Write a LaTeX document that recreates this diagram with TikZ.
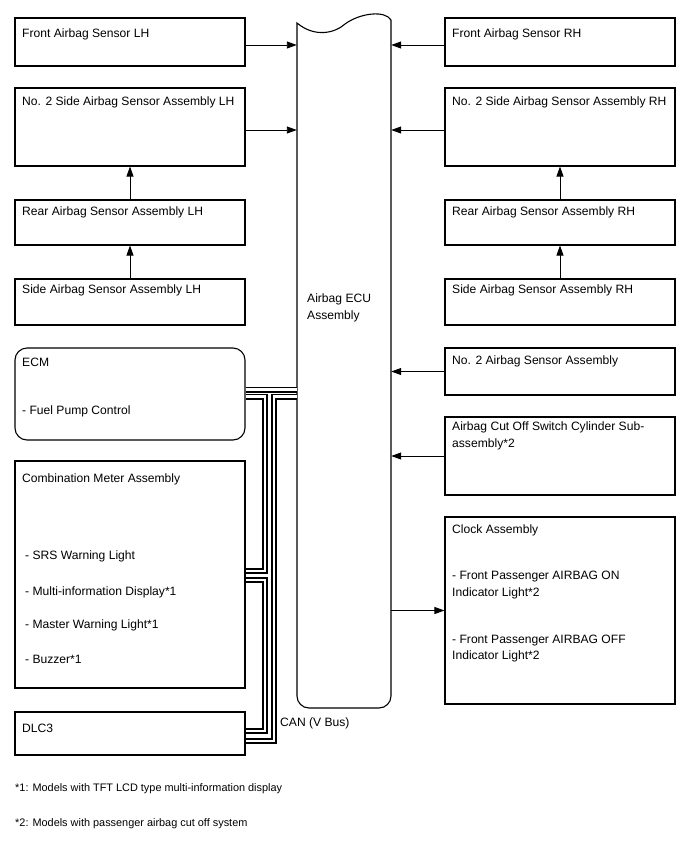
\documentclass[tikz,border=0pt]{standalone}
\usepackage{fontspec}
\setmainfont{Liberation Sans}
\usetikzlibrary{arrows.meta,calc}
\newcommand{\fsmain}{\fontsize{12.1}{15}\selectfont}
\newcommand{\fsnote}{\fontsize{10.9}{13}\selectfont}
\begin{document}
\begin{tikzpicture}[x=1pt,y=-1pt,
  box/.style={draw, line width=1.1pt, rectangle, inner sep=0pt},
  lbl/.style={anchor=west, inner sep=0pt, text height=9pt, text depth=0pt, font=\fsmain},
  note/.style={anchor=west, inner sep=0pt, text height=8pt, text depth=0pt, font=\fsnote},
  arr/.style={line width=0.9pt, -{Triangle[length=10pt,width=7pt]}},
  can/.style={double, double distance=2.4pt, line width=1.8pt, line join=miter}]
\useasboundingbox (0,0) rectangle (688,852);
% ECU
\node[minimum width=94pt, minimum height=690pt, inner sep=0pt] (ecu) at (344,363) {};
\draw[line width=1.1pt] (391,20) [rounded corners=12pt] -- (391,708) -- (297,708) [sharp corners] -- (297,23)
  .. controls (315,38) and (335,33) .. (345,24) .. controls (360,13) and (385,10) .. (391,20);
\node[lbl] (ecut1) at (307,298) {Airbag ECU};
\node[lbl] (ecut2) at (307,315) {Assembly};
% left boxes
\node[box, minimum width=230pt, minimum height=48pt] (flh) at (130,42) {};
\node[box, minimum width=230pt, minimum height=78pt] (slh2) at (130,127) {};
\node[box, minimum width=230pt, minimum height=45pt] (rlh) at (130,222.5) {};
\node[box, minimum width=230pt, minimum height=46pt] (slh) at (130,302) {};
\node[box, rounded corners=12pt, minimum width=230pt, minimum height=92pt] (ecm) at (130,394) {};
\node[box, minimum width=230pt, minimum height=227pt] (cm) at (130,574.5) {};
\node[box, minimum width=230pt, minimum height=43pt] (dlc) at (130,733.5) {};
% right boxes
\node[box, minimum width=230pt, minimum height=48pt] (frh) at (560,42) {};
\node[box, minimum width=230pt, minimum height=78pt] (srh2) at (560,127) {};
\node[box, minimum width=230pt, minimum height=45pt] (rrh) at (560,222.5) {};
\node[box, minimum width=230pt, minimum height=46pt] (srh) at (560,302) {};
\node[box, minimum width=230pt, minimum height=47pt] (no2) at (560,371.5) {};
\node[box, minimum width=230pt, minimum height=78pt] (cut) at (560,456) {};
\node[box, minimum width=230pt, minimum height=187pt] (clk) at (560,610.5) {};
% texts left
\node[lbl] (tflh) at (22,33) {Front Airbag Sensor LH};
\node[lbl] (tslh2) at (22,101) {No. 2 Side Airbag Sensor Assembly LH};
\node[lbl] (trlh) at (22,211) {Rear Airbag Sensor Assembly LH};
\node[lbl] (tslh) at (22,289) {Side Airbag Sensor Assembly LH};
\node[lbl] (tecm) at (22,362) {ECM};
\node[lbl] (tecm2) at (22,410) {- Fuel Pump Control};
\node[lbl] (tcm) at (22,478) {Combination Meter Assembly};
\node[lbl] (tcm1) at (25,555) {- SRS Warning Light};
\node[lbl] (tcm2) at (25,591) {- Multi-information Display*1};
\node[lbl] (tcm3) at (25,624) {- Master Warning Light*1};
\node[lbl] (tcm4) at (25,659) {- Buzzer*1};
\node[lbl] (tdlc) at (22,728) {DLC3};
% texts right
\node[lbl] (tfrh) at (452,33) {Front Airbag Sensor RH};
\node[lbl] (tsrh2) at (452,101) {No. 2 Side Airbag Sensor Assembly RH};
\node[lbl] (trrh) at (452,211) {Rear Airbag Sensor Assembly RH};
\node[lbl] (tsrh) at (452,289) {Side Airbag Sensor Assembly RH};
\node[lbl] (tno2) at (452,360) {No. 2 Airbag Sensor Assembly};
\node[lbl] (tcut1) at (452,426) {Airbag Cut Off Switch Cylinder Sub-};
\node[lbl] (tcut2) at (452,443) {assembly*2};
\node[lbl] (tclk) at (452,529) {Clock Assembly};
\node[lbl] (tclk1) at (452,575) {- Front Passenger AIRBAG ON};
\node[lbl] (tclk2) at (452,592) {Indicator Light*2};
\node[lbl] (tclk3) at (452,639) {- Front Passenger AIRBAG OFF};
\node[lbl] (tclk4) at (452,655) {Indicator Light*2};
\node[lbl] (tcan) at (280,722) {CAN (V Bus)};
\node[note] (n1) at (15,787) {*1: Models with TFT LCD type multi-information display};
\node[note] (n2) at (15,822) {*2: Models with passenger airbag cut off system};
% arrows
\draw[arr] ([yshift=-3pt]flh.east) -- ([yshift=-3pt]flh.east -| ecu.west);
\draw[arr] ([yshift=-3pt]slh2.east) -- ([yshift=-3pt]slh2.east -| ecu.west);
\draw[arr] ([yshift=-3pt]frh.west) -- ([yshift=-3pt]frh.west -| ecu.east);
\draw[arr] ([yshift=-3pt]srh2.west) -- ([yshift=-3pt]srh2.west -| ecu.east);
\draw[arr] (no2.west) -- (no2.west -| ecu.east);
\draw[arr] (cut.west) -- (cut.west -| ecu.east);
\draw[arr] (clk.west -| ecu.east) -- (clk.west);
\draw[arr] (slh) -- (rlh);
\draw[arr] (rlh) -- (slh2);
\draw[arr] (srh) -- (rrh);
\draw[arr] (rrh) -- (srh2);
% CAN bus
\draw[can] ([yshift=4.5pt]ecm.east) -- ([yshift=4.5pt]ecm.east -| ecu.west);
\draw[can] ([yshift=-2.5pt]ecm.east) -| ([xshift=19.5pt,yshift=3.5pt]cm.east) -- ([yshift=3.5pt]cm.east);
\draw[can] ([yshift=-2.5pt]ecm.east -| ecu.west) -| ([xshift=28.5pt,yshift=-7.5pt]dlc.east) -- ([yshift=-7.5pt]dlc.east);
\draw[can] ([yshift=-5.5pt]cm.east) -| ([xshift=19.5pt,yshift=2.5pt]dlc.east) -- ([yshift=2.5pt]dlc.east);
\end{tikzpicture}
\end{document}
